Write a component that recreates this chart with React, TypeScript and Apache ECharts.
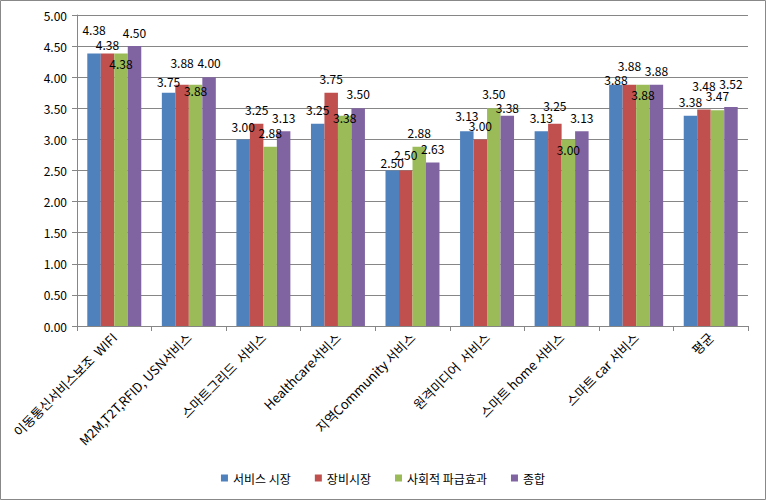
import React, { useEffect, useRef } from "react";
import * as echarts from "echarts";

const categories = [
  "이동통신서비스보조  WIFI",
  "M2M,T2T,RFID, USN서비스",
  "스마트그리드  서비스",
  "Healthcare서비스",
  "지역Community 서비스",
  "원격미디어  서비스",
  "스마트 home 서비스",
  "스마트 car 서비스",
  "평균",
];
const seriesNames = ["서비스 시장", "장비시장", "사회적 파급효과", "종합"];
const serviceMarket = [4.38, 3.75, 3.0, 3.25, 2.5, 3.13, 3.13, 3.88, 3.38];
const equipmentMarket = [4.38, 3.88, 3.25, 3.75, 2.5, 3.0, 3.25, 3.88, 3.48];
const socialEffect = [4.38, 3.88, 2.88, 3.38, 2.88, 3.5, 3.0, 3.88, 3.47];
const overall = [4.5, 4.0, 3.13, 3.5, 2.63, 3.38, 3.13, 3.88, 3.52];
const yTicks = { min: 0, max: 5, interval: 0.5 };

// label vertical nudges (px) to mimic the manually placed labels
const labelNudges = [
  [-13, 0, -2, -3, 3, -5, -3, 6, -3],
  [2, -11, -3, -3, -5, -3, -7, -8, -13],
  [21, 17, -3, 13, -3, -4, 21, 21, -4],
  [-3, -4, -3, -4, -3, 3, -3, -3, -13],
];

const colors = ["#4F81BD", "#C0504D", "#9BBB59", "#8064A2"];
const FONT = "'Noto Sans CJK KR', 'Noto Sans', sans-serif";

export default function App() {
  const ref = useRef<HTMLDivElement>(null);
  useEffect(() => {
    if (!ref.current) return;
    const chart = echarts.init(ref.current, null, { renderer: "svg" });
    const values = [serviceMarket, equipmentMarket, socialEffect, overall];
    chart.setOption({
      animation: false,
      color: colors,
      textStyle: { fontFamily: FONT },
      graphic: [
        {
          type: "rect",
          shape: { x: 0.5, y: 0.5, width: 765, height: 499 },
          style: { fill: "none", stroke: "#888888", lineWidth: 1 },
          silent: true,
        },
      ],
      grid: { left: 77, right: 18, top: 15, bottom: 174, containLabel: false },
      legend: {
        bottom: 11,
        left: "center",
        itemWidth: 7,
        itemHeight: 7,
        itemGap: 24,
        icon: "rect",
        textStyle: { fontSize: 12, color: "#000", fontFamily: FONT },
        data: seriesNames,
      },
      xAxis: {
        type: "category",
        data: categories,
        axisLine: { lineStyle: { color: "#868686" } },
        axisTick: { show: true, alignWithLabel: false, length: 5, lineStyle: { color: "#868686" } },
        axisLabel: {
          rotate: 45,
          interval: 0,
          fontSize: 13,
          color: "#000",
          margin: 9,
          fontFamily: FONT,
        },
      },
      yAxis: {
        type: "value",
        min: yTicks.min,
        max: yTicks.max,
        interval: yTicks.interval,
        axisLine: { show: true, lineStyle: { color: "#868686" } },
        axisTick: { show: true, length: 5, lineStyle: { color: "#868686" } },
        splitLine: { lineStyle: { color: "#868686", width: 1 } },
        axisLabel: {
          formatter: (v: number) => v.toFixed(2),
          fontSize: 12,
          color: "#000",
          margin: 10,
          fontFamily: FONT,
        },
      },
      series: values.map((arr, si) => ({
        name: seriesNames[si],
        type: "bar",
        barGap: "0%",
        barCategoryGap: "27.6%",
        data: arr.map((v, i) => ({
          value: v,
          label: { offset: [0, labelNudges[si][i]] },
        })),
        label: {
          show: true,
          position: "top",
          distance: 5,
          fontSize: 12,
          color: "#000",
          fontFamily: FONT,
          formatter: (p: any) => Number(p.value).toFixed(2),
        },
      })),
    });
    return () => chart.dispose();
  }, []);
  return (
    <div
      ref={ref}
      style={{ position: "absolute", left: 0, top: 0, width: 766, height: 500, background: "#fff" }}
    />
  );
}
